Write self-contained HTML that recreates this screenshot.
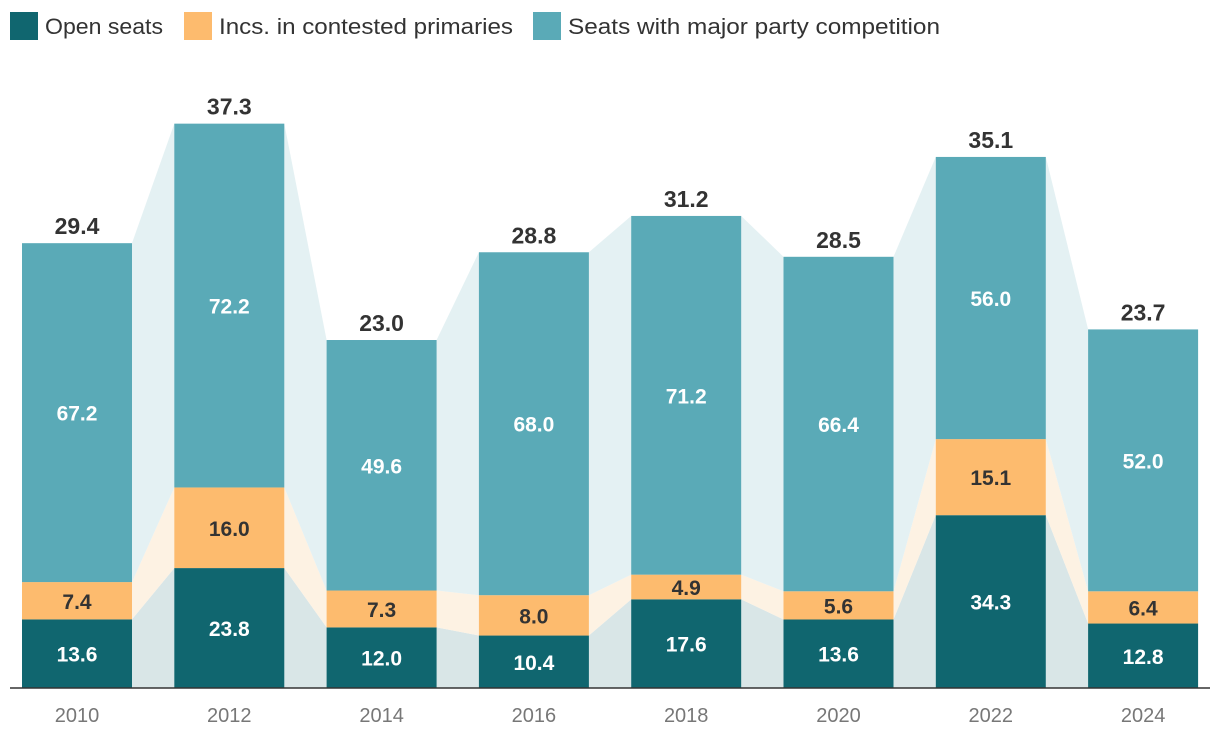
<!DOCTYPE html>
<html><head><meta charset="utf-8">
<style>
body{margin:0;background:#fff;font-family:"Liberation Sans",sans-serif;}
svg{display:block}
</style></head>
<body>
<svg id="chart" width="1220" height="746" xmlns="http://www.w3.org/2000/svg">
  <g>
    <g>
      <rect x="10" y="12" width="28" height="28" fill="#10666f"/>
      <text x="45" y="34" font-size="22" fill="#333" textLength="118" lengthAdjust="spacingAndGlyphs">Open seats</text>
    </g>
    <g>
      <rect x="184" y="12" width="28" height="28" fill="#fdbb6e"/>
      <text x="219" y="34" font-size="22" fill="#333" textLength="294" lengthAdjust="spacingAndGlyphs">Incs. in contested primaries</text>
    </g>
    <g>
      <rect x="533" y="12" width="28" height="28" fill="#5aaab7"/>
      <text x="568" y="34" font-size="22" fill="#333" textLength="372" lengthAdjust="spacingAndGlyphs">Seats with major party competition</text>
    </g>
  </g>
  <g id="ribbons"></g>
  <g id="bars"></g>
  <line x1="10" y1="688" x2="1210" y2="688" stroke="#333" stroke-width="1.5"/>
  <g id="xlabels"></g>
</svg>
<script>
const years = ["2010","2012","2014","2016","2018","2020","2022","2024"];
const totals = [29.4,37.3,23.0,28.8,31.2,28.5,35.1,23.7];
const openSeats = [13.6,23.8,12.0,10.4,17.6,13.6,34.3,12.8];
const incsContested = [7.4,16.0,7.3,8.0,4.9,5.6,15.1,6.4];
const majorParty = [67.2,72.2,49.6,68.0,71.2,66.4,56.0,52.0];

const NS="http://www.w3.org/2000/svg";
const baseY=688, pxPerUnit=15.13, barW=110, x0=22, step=152.3;
const xPos=i=>x0+i*step;
const series=[openSeats,incsContested,majorParty];
const colors=["#10666f","#fdbb6e","#5aaab7"];
const light=["#d9e6e7","#fdf2e3","#e4f1f3"];
const names=["open","incs","major"];
const textCol=["#fff","#333","#fff"];

function mk(tag,attrs,parent){const e=document.createElementNS(NS,tag);for(const k in attrs)e.setAttribute(k,attrs[k]);parent.appendChild(e);return e;}

const bounds=years.map((y,i)=>{
  const sum=openSeats[i]+incsContested[i]+majorParty[i];
  const H=totals[i]*pxPerUnit;
  let acc=baseY;const segs=[];
  series.forEach(s=>{const h=H*s[i]/sum;segs.push([acc-h,acc]);acc-=h;});
  return segs;
});
const rib=document.getElementById('ribbons');
for(let i=0;i<years.length-1;i++){
  for(let k=0;k<3;k++){
    const a=bounds[i][k],b=bounds[i+1][k];
    const xa=xPos(i)+barW,xb=xPos(i+1);
    const p=mk('polygon',{points:`${xa},${a[0]} ${xb},${b[0]} ${xb},${b[1]} ${xa},${a[1]}`,fill:light[k]},rib);
    
    
  }
}
const bars=document.getElementById('bars');
const xl=document.getElementById('xlabels');
years.forEach((yr,i)=>{
  const x=xPos(i);
  for(let k=0;k<3;k++){
    const [t,b]=bounds[i][k];
    const r=mk('rect',{x:x,y:t,width:barW,height:b-t,fill:colors[k]},bars);
    
    
    const tx=mk('text',{x:x+barW/2,y:(t+b)/2+8,'text-anchor':'middle','font-size':'21','font-weight':'bold',fill:textCol[k]},bars);
    tx.textContent=series[k][i].toFixed(1);
    
    
  }
  const top=bounds[i][2][0];
  const tt=mk('text',{x:x+barW/2,y:top-9,'text-anchor':'middle','font-size':'23','font-weight':'bold',fill:'#333'},bars);
  tt.textContent=totals[i].toFixed(1);
  
  
  const lab=mk('text',{x:x+barW/2,y:722,'text-anchor':'middle','font-size':'20',fill:'#777'},xl);
  lab.textContent=yr;
  
  
});
</script>
</body></html>
